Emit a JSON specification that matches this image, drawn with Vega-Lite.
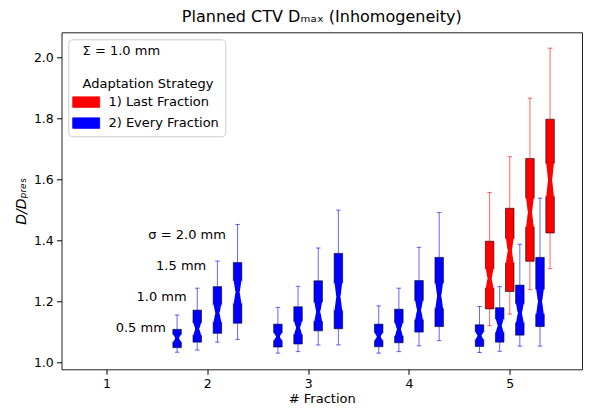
{
  "$schema": "https://vega.github.io/schema/vega-lite/v6.json",
  "autosize": "none",
  "width": 520.5,
  "height": 337,
  "padding": {"left": 61.5, "top": 32.3, "right": 18, "bottom": 50.7},
  "config": {
    "font": "DejaVu Sans",
    "view": {"stroke": "#222222", "strokeWidth": 1},
    "axis": {"grid": false, "domain": false, "tickColor": "black", "tickWidth": 1, "tickSize": 5, "labelColor": "black", "titleColor": "black", "labelFontSize": 12.5, "titleFontSize": 13, "titleFontWeight": "normal", "labelFont": "DejaVu Sans", "titleFont": "DejaVu Sans"}
  },
  "title": {"text": "Planned CTV Dₘₐₓ (Inhomogeneity)", "fontSize": 16, "fontWeight": "normal", "font": "DejaVu Sans", "color": "black", "anchor": "middle", "offset": 7},
  "datasets": {
    "boxes": [
      {"strategy": "2) Every Fraction", "fraction": 2, "sigma": 0.5, "pos": 1.7, "lo": 1.033, "q1": 1.048, "ci_lo": 1.068, "med": 1.079, "ci_hi": 1.090, "q3": 1.108, "hi": 1.155},
      {"strategy": "2) Every Fraction", "fraction": 2, "sigma": 1.0, "pos": 1.9, "lo": 1.040, "q1": 1.066, "ci_lo": 1.090, "med": 1.109, "ci_hi": 1.128, "q3": 1.171, "hi": 1.243},
      {"strategy": "2) Every Fraction", "fraction": 2, "sigma": 1.5, "pos": 2.1, "lo": 1.066, "q1": 1.095, "ci_lo": 1.134, "med": 1.161, "ci_hi": 1.188, "q3": 1.248, "hi": 1.332},
      {"strategy": "2) Every Fraction", "fraction": 2, "sigma": 2.0, "pos": 2.3, "lo": 1.075, "q1": 1.128, "ci_lo": 1.194, "med": 1.230, "ci_hi": 1.266, "q3": 1.327, "hi": 1.452},
      {"strategy": "2) Every Fraction", "fraction": 3, "sigma": 0.5, "pos": 2.7, "lo": 1.030, "q1": 1.050, "ci_lo": 1.073, "med": 1.084, "ci_hi": 1.095, "q3": 1.125, "hi": 1.180},
      {"strategy": "2) Every Fraction", "fraction": 3, "sigma": 1.0, "pos": 2.9, "lo": 1.035, "q1": 1.060, "ci_lo": 1.093, "med": 1.113, "ci_hi": 1.133, "q3": 1.182, "hi": 1.249},
      {"strategy": "2) Every Fraction", "fraction": 3, "sigma": 1.5, "pos": 3.1, "lo": 1.057, "q1": 1.103, "ci_lo": 1.136, "med": 1.166, "ci_hi": 1.196, "q3": 1.267, "hi": 1.375},
      {"strategy": "2) Every Fraction", "fraction": 3, "sigma": 2.0, "pos": 3.3, "lo": 1.057, "q1": 1.110, "ci_lo": 1.172, "med": 1.215, "ci_hi": 1.258, "q3": 1.357, "hi": 1.499},
      {"strategy": "2) Every Fraction", "fraction": 4, "sigma": 0.5, "pos": 3.7, "lo": 1.030, "q1": 1.051, "ci_lo": 1.073, "med": 1.084, "ci_hi": 1.095, "q3": 1.125, "hi": 1.185},
      {"strategy": "2) Every Fraction", "fraction": 4, "sigma": 1.0, "pos": 3.9, "lo": 1.035, "q1": 1.064, "ci_lo": 1.088, "med": 1.108, "ci_hi": 1.128, "q3": 1.174, "hi": 1.243},
      {"strategy": "2) Every Fraction", "fraction": 4, "sigma": 1.5, "pos": 4.1, "lo": 1.054, "q1": 1.099, "ci_lo": 1.141, "med": 1.171, "ci_hi": 1.201, "q3": 1.268, "hi": 1.377},
      {"strategy": "2) Every Fraction", "fraction": 4, "sigma": 2.0, "pos": 4.3, "lo": 1.071, "q1": 1.117, "ci_lo": 1.178, "med": 1.218, "ci_hi": 1.258, "q3": 1.344, "hi": 1.491},
      {"strategy": "2) Every Fraction", "fraction": 5, "sigma": 0.5, "pos": 4.7, "lo": 1.032, "q1": 1.052, "ci_lo": 1.076, "med": 1.087, "ci_hi": 1.098, "q3": 1.123, "hi": 1.183},
      {"strategy": "2) Every Fraction", "fraction": 5, "sigma": 1.0, "pos": 4.9, "lo": 1.036, "q1": 1.066, "ci_lo": 1.100, "med": 1.120, "ci_hi": 1.140, "q3": 1.179, "hi": 1.248},
      {"strategy": "2) Every Fraction", "fraction": 5, "sigma": 1.5, "pos": 5.1, "lo": 1.053, "q1": 1.089, "ci_lo": 1.131, "med": 1.161, "ci_hi": 1.191, "q3": 1.253, "hi": 1.387},
      {"strategy": "2) Every Fraction", "fraction": 5, "sigma": 2.0, "pos": 5.3, "lo": 1.053, "q1": 1.117, "ci_lo": 1.159, "med": 1.199, "ci_hi": 1.239, "q3": 1.344, "hi": 1.538},
      {"strategy": "1) Last Fraction", "fraction": 5, "sigma": 0.5, "pos": 4.8, "lo": 1.120, "q1": 1.175, "ci_lo": 1.245, "med": 1.275, "ci_hi": 1.305, "q3": 1.397, "hi": 1.557},
      {"strategy": "1) Last Fraction", "fraction": 5, "sigma": 1.0, "pos": 5.0, "lo": 1.158, "q1": 1.232, "ci_lo": 1.328, "med": 1.366, "ci_hi": 1.404, "q3": 1.505, "hi": 1.674},
      {"strategy": "1) Last Fraction", "fraction": 5, "sigma": 1.5, "pos": 5.2, "lo": 1.238, "q1": 1.331, "ci_lo": 1.445, "med": 1.491, "ci_hi": 1.537, "q3": 1.668, "hi": 1.866},
      {"strategy": "1) Last Fraction", "fraction": 5, "sigma": 2.0, "pos": 5.4, "lo": 1.307, "q1": 1.424, "ci_lo": 1.545, "med": 1.598, "ci_hi": 1.651, "q3": 1.797, "hi": 2.030}
    ],
    "labels": [
      {"label": "σ = 2.0 mm", "lx": 2.184, "ly": 1.417},
      {"label": "1.5 mm", "lx": 1.989, "ly": 1.316},
      {"label": "1.0 mm", "lx": 1.795, "ly": 1.215},
      {"label": "0.5 mm", "lx": 1.588, "ly": 1.114}
    ]
  },
  "data": {"name": "boxes"},
  "resolve": {"scale": {"size": "independent"}},
  "layer": [
    {
      "mark": {"type": "bar", "width": 8.5, "stroke": "black", "strokeWidth": 0.7, "strokeOpacity": 0.85},
      "encoding": {
        "x": {"field": "pos", "type": "quantitative", "scale": {"domain": [0.603, 5.667], "nice": false, "zero": false}, "axis": {"title": "# Fraction", "values": [1, 2, 3, 4, 5], "format": "d", "labelPadding": 3, "titlePadding": 3}},
        "y": {"field": "q1", "type": "quantitative", "scale": {"domain": [0.977, 2.082], "nice": false, "zero": false}, "axis": {"title": "D/Dₚᵣₑₛ", "titleFontStyle": "italic", "titleFontSize": 14, "values": [1.0, 1.2, 1.4, 1.6, 1.8, 2.0], "format": ".1f", "labelPadding": 3.2, "titlePadding": 5}},
        "y2": {"field": "q3"},
        "color": {"field": "strategy", "type": "nominal", "scale": {"domain": ["1) Last Fraction", "2) Every Fraction"], "range": ["#ff0000", "#0000ff"]},
          "legend": {"orient": "none", "legendX": 6.8, "legendY": 7, "title": ["\u200b\u2007Σ = 1.0 mm", "\u200b\u2007Adaptation Strategy"], "titleFontSize": 13, "titleFontWeight": "normal", "titleColor": "black", "titleLineHeight": 32.3, "titleAnchor": "start", "titleAlign": "left", "titlePadding": 4, "labelFontSize": 13, "labelColor": "black", "symbolType": "M-2,-0.778H2V0.778H-2Z", "symbolSize": 182, "symbolStrokeColor": "black", "symbolStrokeWidth": 0.8, "symbolOpacity": 1, "symbolOffset": 4.4, "labelOffset": 14.7, "rowPadding": 6, "padding": 6, "fillColor": "white", "strokeColor": "#cccccc", "cornerRadius": 4,
            "encode": {"symbols": {"update": {"opacity": {"value": 1}, "fillOpacity": {"value": 1}, "stroke": {"value": "black"}, "strokeWidth": {"value": 0.8}, "strokeOpacity": {"value": 1}}}}}}
      }
    },
    {
      "mark": {"type": "rule", "strokeWidth": 1, "opacity": 0.6},
      "encoding": {
        "x": {"field": "pos", "type": "quantitative"},
        "y": {"field": "lo", "type": "quantitative"},
        "y2": {"field": "q1"},
        "color": {"field": "strategy", "type": "nominal"}
      }
    },
    {
      "mark": {"type": "rule", "strokeWidth": 1, "opacity": 0.6},
      "encoding": {
        "x": {"field": "pos", "type": "quantitative"},
        "y": {"field": "q3", "type": "quantitative"},
        "y2": {"field": "hi"},
        "color": {"field": "strategy", "type": "nominal"}
      }
    },
    {
      "transform": [{"fold": ["lo", "hi"], "as": ["whisk", "wv"]}],
      "mark": {"type": "tick", "orient": "horizontal", "size": 4.5, "thickness": 1, "opacity": 0.6},
      "encoding": {
        "x": {"field": "pos", "type": "quantitative"},
        "y": {"field": "wv", "type": "quantitative"},
        "color": {"field": "strategy", "type": "nominal"}
      }
    },
    {
      "transform": [{"fold": ["ci_lo", "med"], "as": ["k", "v"]}],
      "mark": {"type": "trail", "color": "white", "xOffset": -4.25},
      "encoding": {
        "x": {"field": "pos", "type": "quantitative"},
        "y": {"field": "v", "type": "quantitative"},
        "size": {"field": "k", "type": "nominal", "scale": {"type": "point", "domain": ["ci_lo", "med"], "range": [0, 4.25], "padding": 0}, "legend": null},
        "detail": {"field": "pos"},
        "order": {"field": "v", "type": "quantitative"}
      }
    },
    {
      "transform": [{"fold": ["ci_hi", "med"], "as": ["k", "v"]}],
      "mark": {"type": "trail", "color": "white", "xOffset": -4.25},
      "encoding": {
        "x": {"field": "pos", "type": "quantitative"},
        "y": {"field": "v", "type": "quantitative"},
        "size": {"field": "k", "type": "nominal", "scale": {"type": "point", "domain": ["ci_hi", "med"], "range": [0, 4.25], "padding": 0}, "legend": null},
        "detail": {"field": "pos"},
        "order": {"field": "v", "type": "quantitative"}
      }
    },
    {
      "transform": [{"fold": ["ci_lo", "med"], "as": ["k", "v"]}],
      "mark": {"type": "trail", "color": "white", "xOffset": 4.25},
      "encoding": {
        "x": {"field": "pos", "type": "quantitative"},
        "y": {"field": "v", "type": "quantitative"},
        "size": {"field": "k", "type": "nominal", "scale": {"type": "point", "domain": ["ci_lo", "med"], "range": [0, 4.25], "padding": 0}, "legend": null},
        "detail": {"field": "pos"},
        "order": {"field": "v", "type": "quantitative"}
      }
    },
    {
      "transform": [{"fold": ["ci_hi", "med"], "as": ["k", "v"]}],
      "mark": {"type": "trail", "color": "white", "xOffset": 4.25},
      "encoding": {
        "x": {"field": "pos", "type": "quantitative"},
        "y": {"field": "v", "type": "quantitative"},
        "size": {"field": "k", "type": "nominal", "scale": {"type": "point", "domain": ["ci_hi", "med"], "range": [0, 4.25], "padding": 0}, "legend": null},
        "detail": {"field": "pos"},
        "order": {"field": "v", "type": "quantitative"}
      }
    },
    {
      "data": {"name": "labels"},
      "mark": {"type": "text", "align": "right", "baseline": "middle", "fontSize": 13, "color": "black", "font": "DejaVu Sans"},
      "encoding": {
        "x": {"field": "lx", "type": "quantitative"},
        "y": {"field": "ly", "type": "quantitative"},
        "text": {"field": "label"}
      }
    }
  ]
}
